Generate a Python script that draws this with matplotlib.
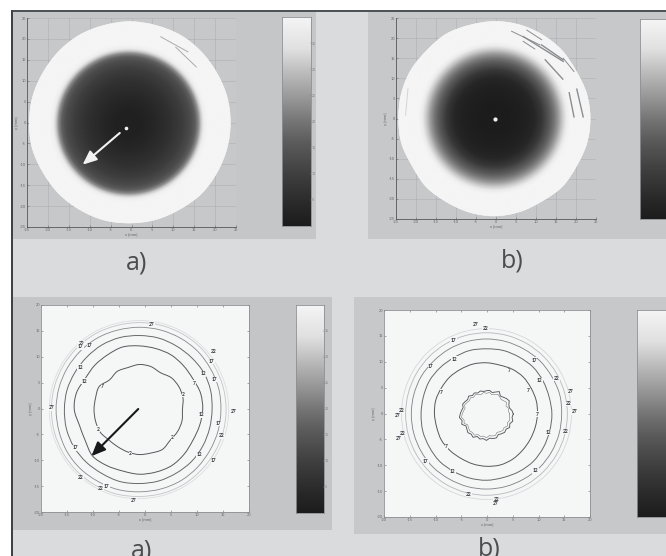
import numpy as np
import matplotlib
matplotlib.use("Agg")
import matplotlib.pyplot as plt
from matplotlib.colors import LinearSegmentedColormap
from matplotlib.patches import Rectangle, PathPatch
from matplotlib.path import Path

W, H = 666, 556

# ---------- data (mm) ----------
ticks_wide = [-25, -20, -15, -10, -5, 0, 5, 10, 15, 20, 25]
ticks_narrow = [-20, -15, -10, -5, 0, 5, 10, 15, 20]
bar_ticks = [5, 10, 15, 20, 25, 30, 35]

radii_a = [0, 3, 6, 10, 13, 15, 16, 16.8, 17.4, 18, 19, 25]
depth_a = [.13, .13, .15, .19, .24, .30, .37, .55, .80, .93, .96, .96]
radii_b = [0, 3, 6, 8, 10, 12, 14, 15, 16, 17, 18, 19, 25]
depth_b = [.11, .11, .12, .13, .15, .22, .36, .46, .60, .78, .92, .96, .96]
rim_a = [24.1, 24.1, 24.0, 24.1, 24.2, 24.1, 24.2, 24.1, 24.2, 24.1, 24.0, 24.1,
         24.1, 24.2, 24.0, 24.1, 24.1, 24.2, 24.1, 24.1, 24.0, 24.2, 24.1, 24.1]
rim_b = [24.0, 23.9, 23.6, 23.9, 24.0, 24.1, 24.1, 24.0, 24.2, 23.9, 24.1, 24.1,
         24.0, 24.1, 23.8, 24.2, 24.1, 24.3, 24.4, 24.2, 23.9, 24.1, 23.8, 24.0]

scratches_a_x = [[7.0, 13.5], [10.6, 15.5]]
scratches_a_y = [[20.5, 16.9], [18.0, 13.3]]
scratches_b_x = [[3.9, 11.0], [7.7, 11.4], [6.8, 16.8], [6.8, 9.7], [11.4, 16.8],
                 [12.3, 16.7], [16.8, 19.5], [18.3, 19.5], [20.2, 21.8]]
scratches_b_y = [[21.7, 18.3], [22.0, 19.6], [20.4, 14.2], [19.2, 17.3], [18.3, 14.6],
                 [14.6, 9.8], [15.0, 11.7], [6.4, 0.4], [7.3, 0.4]]
faint_b_x = [-22.0, -22.6]
faint_b_y = [7.5, 0.8]

contours_c = [
    [8.3, 8.7, 8.8, 8.7, 8.2, 8.6, 8.7, 8.4, 8.5, 8.1, 8.9, 8.7,
     8.7, 8.7, 8.7, 8.3, 8.3, 8.5, 8.7, 8.7, 8.9, 8.4, 8.5, 8.5],
    [12.2, 12.2, 11.9, 12.0, 12.2, 12.2, 12.3, 12.5, 12.2, 12.1, 12.0, 12.5,
     12.5, 11.9, 12.0, 12.7, 12.5, 12.3, 12.5, 12.5, 12.5, 12.2, 11.9, 12.0],
    [14.0, 14.2, 14.3, 14.2, 14.2, 14.3, 14.3, 14.4, 14.4, 14.3, 14.3, 14.4,
     14.4, 14.5, 14.5, 14.4, 14.3, 14.4, 14.3, 14.3, 14.2, 14.2, 14.1, 14.0],
    [15.7, 15.8, 15.8, 15.9, 15.9, 15.9, 15.9, 15.9, 16.0, 16.0, 16.0, 16.0,
     16.0, 16.0, 16.1, 16.1, 16.0, 16.0, 15.9, 15.9, 15.9, 15.8, 15.7, 15.7],
    [16.7, 16.7, 16.7, 16.8, 16.8, 16.8, 16.8, 16.8, 16.9, 16.9, 16.9, 16.9,
     16.9, 16.9, 16.9, 16.9, 16.9, 16.9, 16.8, 16.8, 16.8, 16.7, 16.7, 16.7],
    [17.2, 17.2, 17.2, 17.2, 17.2, 17.2, 17.2, 17.2, 17.3, 17.3, 17.3, 17.3,
     17.3, 17.3, 17.3, 17.3, 17.3, 17.3, 17.2, 17.2, 17.2, 17.2, 17.2, 17.2],
]
contours_d = [
    [9.9, 10.0, 10.0, 10.1, 10.0, 9.8, 9.9, 10.0, 10.0, 10.1, 10.1, 10.2,
     10.1, 10.0, 10.1, 10.0, 9.9, 10.0, 10.1, 10.2, 10.1, 9.9, 9.8, 9.8],
    [12.7, 12.6, 12.7, 12.8, 12.7, 12.7, 12.6, 12.7, 12.6, 12.7, 12.8, 12.7,
     12.7, 12.8, 12.8, 12.9, 12.8, 12.8, 12.8, 12.7, 12.8, 12.9, 12.8, 12.7],
    [14.6, 14.7, 14.6, 14.6, 14.5, 14.5, 14.5, 14.5, 14.5, 14.5, 14.6, 14.6,
     14.6, 14.6, 14.6, 14.6, 14.5, 14.5, 14.5, 14.5, 14.5, 14.6, 14.6, 14.6],
    [15.7, 15.7, 15.7, 15.7, 15.7, 15.7, 15.7, 15.7, 15.7, 15.7, 15.7, 15.7,
     15.7, 15.7, 15.7, 15.7, 15.7, 15.7, 15.7, 15.7, 15.7, 15.7, 15.7, 15.7],
    [16.5, 16.5, 16.5, 16.5, 16.5, 16.5, 16.5, 16.5, 16.5, 16.5, 16.5, 16.5,
     16.5, 16.5, 16.5, 16.5, 16.5, 16.5, 16.5, 16.5, 16.5, 16.5, 16.5, 16.5],
]
inner_d1 = [5.2, 5.0, 4.6, 4.7, 5.1, 4.9, 4.6, 4.4, 5.0, 4.6, 4.3, 4.6, 4.5, 4.4, 4.6, 4.4,
            4.7, 4.5, 4.9, 4.6, 4.8, 5.0, 4.7, 4.9, 5.1, 5.3, 4.9, 5.2, 4.6, 4.8, 5.1, 4.9,
            5.2, 4.7, 5.0, 4.8, 5.1, 4.7, 4.9, 5.0, 4.6, 4.8, 5.0, 4.8, 5.2, 4.9, 5.3, 5.0]
inner_d2 = [4.5, 4.3, 4.4, 4.1, 4.5, 4.2, 4.0, 4.2, 4.4, 4.1, 3.9, 4.2, 4.0, 4.2, 3.9, 4.1,
            4.3, 4.1, 4.4, 4.2, 4.4, 4.6, 4.3, 4.5, 4.7, 4.9, 4.5, 4.7, 4.2, 4.4, 4.6, 4.5,
            4.7, 4.3, 4.5, 4.3, 4.6, 4.2, 4.4, 4.5, 4.1, 4.3, 4.5, 4.3, 4.7, 4.4, 4.7, 4.5]

label_c_x = [1.3, -12.2, -12.4, -10.6, 13.2, 12.8, -12.4, 11.2, 13.4, -11.7, 9.5, -8.2, 7.4, -18,
             17.1, 10.8, 14.2, -9, 14.7, 5.3, -13.4, 10.5, -2.8, 13.2, -12.4, -7.4, -8.5, -2.1]
label_c_y = [16.3, 12.6, 11.9, 12.1, 11, 9.1, 8, 6.7, 5.6, 5.3, 4.9, 4.2, 2.7, 0.1,
             -0.5, -1.2, -2.9, -4, -5.3, -5.6, -7.6, -8.9, -8.6, -10.1, -13.4, -15, -15.4, -17.7]
label_c_t = ["27", "22", "17", "17", "22", "17", "12", "12", "17", "12", "7", "7", "2", "27",
             "27", "12", "17", "2", "22", "2", "17", "12", "2", "17", "22", "17", "22", "27"]
label_d_x = [-2.1, -.3, -6.5, 9.2, -6.3, -10.9, 13.5, 10.2, 4.4, 16.3, 8, -8.8, 15.9, 17, 9.7,
             -16.6, -17.4, -16.4, -17.1, 12, 15.3, -7.9, -11.9, -6.6, 9.4, -3.5, 1.8, 1.6]
label_d_y = [17.2, 16.4, 14.2, 10.3, 10.5, 9.1, 6.8, 6.3, 8.3, 4.3, 4.4, 4.1, 1.9, .3, -.1,
             .6, -.3, -3.9, -4.8, -3.7, -3.5, -6.4, -9.2, -11.2, -11.1, -15.6, -16.7, -17.4]
label_d_t = ["27", "22", "17", "17", "12", "17", "22", "12", "7", "27", "7", "7", "22", "27", "7",
             "22", "27", "22", "27", "12", "22", "7", "17", "12", "12", "22", "22", "27"]

arrow_a = [(-2.8, -2.5), (-11.7, -10.1)]
arrow_c = [(-1.3, -0.1), (-10.3, -9.2)]
dot_a = (-1.2, -1.2)
dot_b = (-0.2, 0.0)
center_a = (-0.4, 0.0)
center_a_disk = (-0.7, -0.2)
center_b = (-0.4, 0.1)
center_c = (-1.1, -0.2)
center_d = (-0.1, -0.1)

bar_levels = [0.0, 0.10, 0.25, 0.40, 0.50, 0.60, 0.72, 0.85, 1.0]
bar_grays = [.11, .16, .25, .36, .46, .58, .72, .88, .96]

captions = ["a)", "b)", "a)", "b)"]

# ---------- helpers ----------
fig = plt.figure(figsize=(W / 100, H / 100), dpi=100, facecolor="white")
plt.rcParams["font.family"] = ["Lato", "DejaVu Sans"]
TXT = "#666a6e"
gray_map = LinearSegmentedColormap.from_list("g", ["#000000", "#ffffff"])


def box(x0, y0, x1, y1, color):
    fig.add_artist(Rectangle((x0 / W, 1 - y1 / H), (x1 - x0) / W, (y1 - y0) / H,
                             transform=fig.transFigure, fc=color, ec="none", zorder=-10))


def make_axes(x0, y0, x1, y1):
    return fig.add_axes([x0 / W, 1 - y1 / H, (x1 - x0) / W, (y1 - y0) / H])


def style(ax, ticks, lim, face, grid):
    ax.set_xlim(-lim, lim)
    ax.set_ylim(-lim, lim)
    ax.set_facecolor(face)
    ax.set_xticks(ticks)
    ax.set_yticks(ticks)
    ax.set_xticklabels([str(t) for t in ticks])
    ax.set_yticklabels([str(t) for t in ticks])
    ax.tick_params(length=1.5, width=0.4, colors=TXT, labelsize=2.8, pad=0.8, direction="in",
                   top=not grid, right=not grid)
    ax.set_xlabel("x [mm]", fontsize=3, color=TXT, labelpad=0.8)
    ax.set_ylabel("y [mm]", fontsize=3, color=TXT, labelpad=0.8)
    for s in ax.spines.values():
        s.set_linewidth(0.6)
        s.set_color("#8d9093")
    if grid:
        ax.grid(color="#adb0b3", lw=0.4)
        ax.set_axisbelow(True)
        ax.spines["top"].set_visible(False)
        ax.spines["right"].set_visible(False)
        ax.spines["left"].set_color("#55585b")
        ax.spines["bottom"].set_color("#55585b")


def smooth_path(xs, ys):
    """Closed Bezier path through the points (Catmull-Rom control points)."""
    n = len(xs)
    P = np.column_stack([xs, ys])
    verts = [P[0]]
    codes = [Path.MOVETO]
    for i in range(n):
        p0, p1, p2, p3 = P[i - 1], P[i], P[(i + 1) % n], P[(i + 2) % n]
        verts += [p1 + (p2 - p0) / 6, p2 - (p3 - p1) / 6, p2]
        codes += [Path.CURVE4] * 3
    return Path(verts, codes)


def polar_xy(center, radii):
    th = np.radians(np.arange(len(radii)) * 360 / len(radii))
    rr = np.array(radii)
    return center[0] + rr * np.cos(th), center[1] + rr * np.sin(th)


def disk(ax, center, disk_center, rim, radii, depth):
    xs, ys = polar_xy(center, rim)
    patch = PathPatch(smooth_path(xs, ys), fc=str(depth[-1]), ec="none", zorder=2)
    ax.add_patch(patch)
    g = np.linspace(-25, 25, 501)
    X, Y = np.meshgrid(g, g)
    Z = np.interp(np.hypot(X - disk_center[0], Y - disk_center[1]), radii, depth)
    im = ax.imshow(Z, origin="lower", extent=[-25, 25, -25, 25], cmap=gray_map, vmin=0, vmax=1,
                   interpolation="bilinear", zorder=3, aspect="auto")
    im.set_clip_path(patch)


def ring(ax, center, radii, color, lw, zorder=3):
    xs, ys = polar_xy(center, radii)
    ax.add_patch(PathPatch(smooth_path(xs, ys), fc="none", ec=color, lw=lw, zorder=zorder))


def jagged(ax, center, radii, color, lw):
    xs, ys = polar_xy(center, radii)
    ax.plot(list(xs) + [xs[0]], list(ys) + [ys[0]], color=color, lw=lw, zorder=3)


def colorbar(x0, y0, x1, y1, show_labels=True):
    ax = make_axes(x0, y0, x1, y1)
    cmap = LinearSegmentedColormap.from_list("b", list(zip(bar_levels, [str(g) for g in bar_grays])))
    ax.imshow(np.linspace(0, 1, 256)[:, None], origin="lower", cmap=cmap, aspect="auto",
              extent=[0, 1, 0, 40], vmin=0, vmax=1)
    ax.set_xticks([])
    ax.set_yticks(bar_ticks)
    if show_labels:
        ax.yaxis.tick_right()
        ax.set_yticklabels([str(t) for t in bar_ticks])
        ax.tick_params(length=1, width=0.3, colors="#77797c", labelsize=2.5, pad=0.5, direction="in")
    else:
        ax.set_yticklabels([])
        ax.tick_params(length=1, width=0.3, colors="#77797c", direction="in")
    for s in ax.spines.values():
        s.set_linewidth(0.6)
        s.set_color("#8d9093")


def labels(ax, xs, ys, ts):
    for x, y, t in zip(xs, ys, ts):
        ax.text(x, y, t, fontsize=3.5, color="#2c2f33", ha="center", va="center", zorder=5,
                fontweight="bold", bbox=dict(fc="#f5f6f6", ec="none", pad=0.2))


def arrow(ax, pts, color):
    ax.annotate("", xy=pts[1], xytext=pts[0], zorder=6,
                arrowprops=dict(arrowstyle="-|>,head_length=0.7,head_width=0.3", color=color, lw=1.5,
                                shrinkA=0, shrinkB=0, mutation_scale=12))


# ---------- page ----------
box(12, 11, W, H, "#d9dbdc")
box(11, 10, W, 12, "#4f5256")
box(11, 10, 13, H, "#3f4246")
box(13, 12, 316, 239, "#c4c6c8")
box(368, 12, W, 239, "#c6c8ca")
box(13, 297, 332, 530, "#c3c5c7")
box(354, 297, W, 534, "#c6c8ca")

# panel a (top left)
ax = make_axes(27, 18, 236, 227)
style(ax, ticks_wide, 25, "#c6c8ca", True)
disk(ax, center_a, center_a_disk, rim_a, radii_a, depth_a)
for xs, ys in zip(scratches_a_x, scratches_a_y):
    ax.plot(xs, ys, color="#a9abad", lw=0.7, zorder=4)
ax.plot(*dot_a, "o", ms=1.6, color="#f0f0f0", zorder=5)
arrow(ax, arrow_a, "#f2f2f2")
colorbar(282, 17, 311, 226)

# panel b (top right)
ax = make_axes(396, 18, 596, 219)
style(ax, ticks_wide, 25, "#c6c8ca", True)
disk(ax, center_b, center_b, rim_b, radii_b, depth_b)
for i, (xs, ys) in enumerate(zip(scratches_b_x, scratches_b_y)):
    ax.plot(xs, ys, color="#8b8d90", lw=1.0 if i in (2, 4, 5, 7, 8) else 0.7, zorder=4)
ax.plot(faint_b_x, faint_b_y, color="#d3d5d6", lw=0.7, zorder=4)
ax.plot(*dot_b, "o", ms=2, color="#f0f0f0", zorder=5)
colorbar(640, 19, 666, 219, show_labels=False)

# panel c (bottom left)
ax = make_axes(41, 305, 249, 512)
style(ax, ticks_narrow, 20, "#f5f6f6", False)
for r, c, w in zip(contours_c, ["#55585b", "#55585b", "#66696c", "#86898c", "#c2c5c7", "#dcdedf"],
                   [0.7, 0.7, 0.7, 0.6, 0.6, 0.6]):
    ring(ax, center_c, r, c, w)
labels(ax, label_c_x, label_c_y, label_c_t)
arrow(ax, arrow_c, "#17181a")
colorbar(296, 305, 324, 513)

# panel d (bottom right)
ax = make_axes(384, 310, 590, 517)
style(ax, ticks_narrow, 20, "#f5f6f6", False)
for r, c, w in zip(contours_d, ["#55585b", "#66696c", "#7d8083", "#b5b8ba", "#d5d7d9"],
                   [0.7, 0.7, 0.6, 0.6, 0.6]):
    ring(ax, center_d, r, c, w)
jagged(ax, center_d, inner_d1, "#4a4d50", 0.6)
jagged(ax, center_d, inner_d2, "#75787b", 0.4)
labels(ax, label_d_x, label_d_y, label_d_t)
colorbar(637, 310, 666, 517, show_labels=False)

# captions
for x, y, t in zip([137, 512, 142, 489], [269, 267, 557, 556], captions):
    fig.text(x / W, 1 - y / H, t, fontsize=18, color="#4a4d50", ha="center", va="baseline",
             family=["Open Sans", "DejaVu Sans"])

fig.savefig("out.png", dpi=100)
